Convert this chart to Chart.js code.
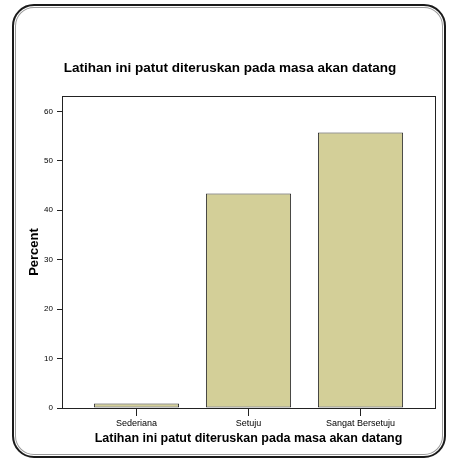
<!DOCTYPE html>
<html>
<head>
<meta charset="utf-8">
<script src="https://cdn.jsdelivr.net/npm/chart.js@4/dist/chart.umd.min.js"></script>
<style>
  html, body { margin: 0; padding: 0; background: #fff; }
  #wrap { position: relative; width: 449px; height: 460px; }
  #frame {
    position: absolute; left: 12px; top: 4px; width: 430px; height: 450px;
    border: 2px solid #1a1a1a; border-radius: 22px;
    box-shadow: inset 0 0 0 1px #fff, inset 0 0 0 2px #9a9a9a;
    pointer-events: none;
  }
  canvas { position: absolute; left: 0; top: 0; }
</style>
</head>
<body>
<div id="wrap">
  <canvas id="c" width="449" height="460"></canvas>
  <div id="frame"></div>
</div>
<script>
const chartTitle = 'Latihan ini patut diteruskan pada masa akan datang';
const categories = ['Sederiana', 'Setuju', 'Sangat Bersetuju'];
const percentValues = [0.9, 43.4, 55.7];
const yTickValues = [0, 10, 20, 30, 40, 50, 60];
const yAxisTitle = 'Percent';
const xAxisTitle = 'Latihan ini patut diteruskan pada masa akan datang';

const FONT = "'Liberation Sans', Arial, sans-serif";

const boxPlugin = {
  id: 'box',
  afterDraw(chart) {
    const a = chart.chartArea, ctx = chart.ctx;
    ctx.save();
    ctx.strokeStyle = '#222';
    ctx.lineWidth = 1;
    ctx.strokeRect(Math.round(a.left) + 0.5, Math.round(a.top) + 0.5,
                   Math.round(a.right - a.left), Math.round(a.bottom - a.top));
    // main title
    ctx.fillStyle = '#000';
    ctx.font = "bold 13.5px " + FONT;
    ctx.textAlign = 'center';
    ctx.textBaseline = 'middle';
    ctx.fillText(chartTitle, 230, 68);
    ctx.restore();
  }
};

new Chart(document.getElementById('c'), {
  type: 'bar',
  data: {
    datasets: [{
      data: categories.map((c, i) => ({ x: i, y: percentValues[i] })),
      backgroundColor: '#d3cf98',
      borderColor: '#333',
      borderWidth: 1,
      borderSkipped: false,
      barPercentage: 0.76,
      categoryPercentage: 1
    }]
  },
  options: {
    responsive: false,
    animation: false,
    layout: { padding: { left: 0, right: 14, top: 96, bottom: 0 } },
    plugins: {
      legend: { display: false },
      tooltip: { enabled: false },
      title: { display: false }
    },
    scales: {
      x: {
        type: 'linear',
        offset: false,
        min: -0.665,
        max: 2.665,
        afterBuildTicks(scale) { scale.ticks = categories.map((c, i) => ({ value: i })); },
        afterFit(scale) { scale.height = 52; },
        ticks: {
          color: '#000',
          font: { family: FONT, size: 9 },
          padding: 2,
          maxRotation: 0,
          autoSkip: false,
          callback: (v) => categories[v]
        },
        grid: { offset: false, drawOnChartArea: false, color: '#222', tickColor: '#222', tickLength: 8 },
        border: { color: '#222' },
        title: {
          display: true,
          text: xAxisTitle,
          color: '#000',
          font: { family: FONT, size: 12.5, weight: 'bold' },
          padding: { top: 0, bottom: 14 }
        }
      },
      y: {
        min: 0,
        max: 63.1,
        afterBuildTicks(scale) { scale.ticks = yTickValues.map(v => ({ value: v })); },
        afterFit(scale) { scale.width = 62; },
        ticks: {
          color: '#000',
          font: { family: FONT, size: 8 },
          padding: 4
        },
        grid: { drawOnChartArea: false, color: '#222', tickColor: '#222', tickLength: 5 },
        border: { color: '#222' },
        title: {
          display: true,
          text: yAxisTitle,
          color: '#000',
          font: { family: FONT, size: 13, weight: 'bold' },
          padding: { top: 27, bottom: 0 }
        }
      }
    }
  },
  plugins: [boxPlugin]
});
</script>
</body>
</html>
